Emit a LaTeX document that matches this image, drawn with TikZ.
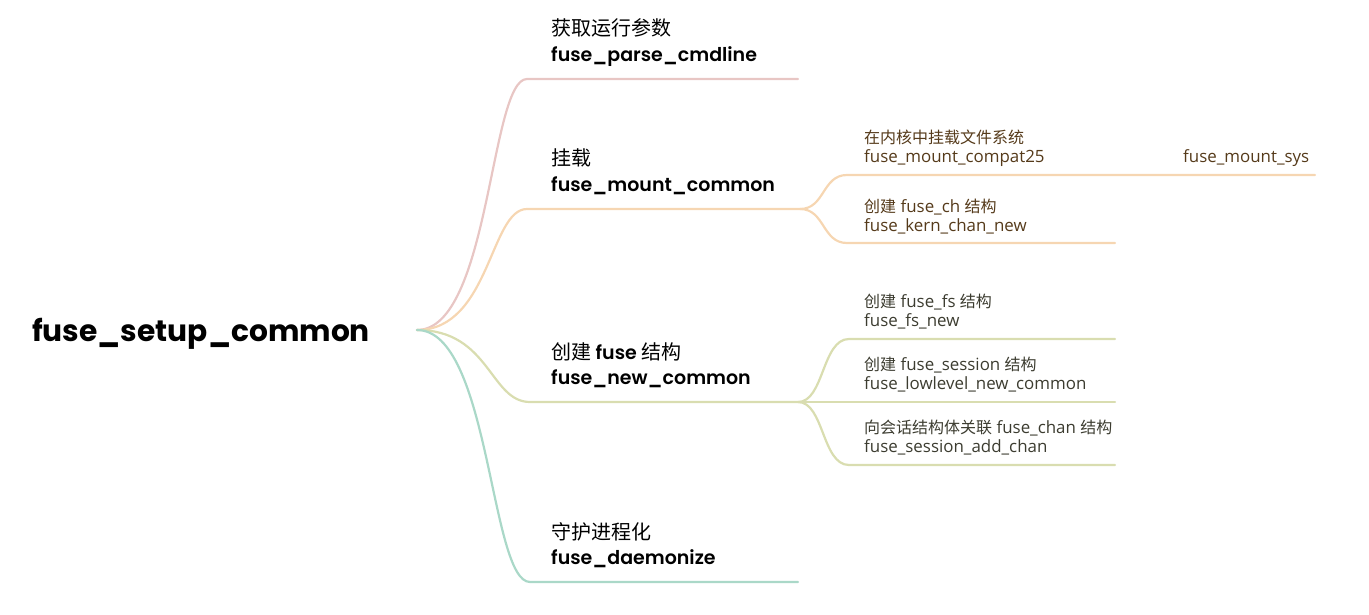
\documentclass[tikz,border=0pt]{standalone}
\usepackage{fontspec}
\setmainfont{Open Sans}
\newfontfamily\cjk{Noto Sans CJK SC}
\newfontfamily\pop{Poppins}[BoldFont={Poppins SemiBold}]
\newfontfamily\popb{Poppins}[BoldFont={Poppins Bold}]
\definecolor{cpink}{HTML}{E8C6C4}
\definecolor{corange}{HTML}{F6D6B2}
\definecolor{cgreen}{HTML}{D9DDB0}
\definecolor{cteal}{HTML}{AAD8C8}
\definecolor{torange}{HTML}{553A1A}
\definecolor{tgreen}{HTML}{3C3C30}
\tikzset{
  lbl/.style={inner sep=0pt, anchor=base west},
  roottxt/.style={lbl, font=\popb\bfseries\fontsize{29.7}{36}\selectfont},
  cnz/.style={lbl, font=\cjk\fontsize{20}{23}\selectfont},
  fnz/.style={lbl, font=\pop\bfseries\fontsize{19}{23}\selectfont},
  subtxt/.style={lbl, font=\fontsize{16.9}{19}\selectfont},
  branch/.style={line width=2.2pt, line cap=round},
}
\newcommand{\zh}[1]{{\cjk\fontsize{16}{19}\selectfont #1}}
\begin{document}
\begin{tikzpicture}[x=1pt,y=-1pt]
\useasboundingbox (0,0) rectangle (1369,614);
% root
\node[roottxt] (root) at (32,341) {fuse\_setup\_common};
\coordinate (r) at (417,330);
% level 2 coordinates
\coordinate (a0) at (527,79);  \coordinate (a1) at (798,79);
\coordinate (b0) at (527,209); \coordinate (b1) at (800,209);
\coordinate (c0) at (530,402); \coordinate (c1) at (798,402);
\coordinate (d0) at (530,582); \coordinate (d1) at (798,582);
% level 2 texts
\node[cnz] (a) at (551,35) {获取运行参数};
\node[fnz] (an) at (551,61) {fuse\_parse\_cmdline};
\node[cnz] (b) at (551,165) {挂载};
\node[fnz] (bn) at (551,191) {fuse\_mount\_common};
\node[cnz] (c) at (551,359) {创建 {\pop\bfseries\fontsize{19}{23}\selectfont fuse} 结构};
\node[fnz] (cn) at (551,384) {fuse\_new\_common};
\node[cnz] (d) at (551,539) {守护进程化};
\node[fnz] (dn) at (551,564) {fuse\_daemonize};
% root connectors
\draw[branch, cpink]   (r) .. controls (490,330) and (490,79)  .. (a0) -- (a1);
\draw[branch, corange] (r) .. controls (490,330) and (490,209) .. (b0) -- (b1);
\draw[branch, cgreen]  (r) .. controls (490,330) and (490,402) .. (c0) -- (c1);
\draw[branch, cteal]   (r) .. controls (490,330) and (490,582) .. (d0) -- (d1);
% level 3 (orange)
\coordinate (b10) at (847,175); \coordinate (b11) at (1115,175);
\coordinate (b20) at (847,243); \coordinate (b21) at (1115,243);
\coordinate (s0) at (1166,175); \coordinate (s1) at (1315,175);
\draw[branch, corange] (b1) .. controls (825,209) and (822,175) .. (b10) -- (b11) -- (s0) -- (s1);
\draw[branch, corange] (b1) .. controls (825,209) and (822,243) .. (b20) -- (b21);
\node[subtxt, text=torange] (b1t) at (864,143) {\zh{在内核中挂载文件系统}};
\node[subtxt, text=torange] (b1n) at (864,162) {fuse\_mount\_compat25};
\node[subtxt, text=torange] (st) at (1183,162) {fuse\_mount\_sys};
\node[subtxt, text=torange] (b2t) at (864,212) {\zh{创建} fuse\_ch \zh{结构}};
\node[subtxt, text=torange] (b2n) at (864,231) {fuse\_kern\_chan\_new};
% level 3 (green)
\coordinate (c10) at (849,339); \coordinate (c11) at (1115,339);
\coordinate (c20) at (849,402); \coordinate (c21) at (1115,402);
\coordinate (c30) at (849,465); \coordinate (c31) at (1115,465);
\draw[branch, cgreen] (c1) .. controls (824,402) and (822,339) .. (c10) -- (c11);
\draw[branch, cgreen] (c1) -- (c20) -- (c21);
\draw[branch, cgreen] (c1) .. controls (824,402) and (822,465) .. (c30) -- (c31);
\node[subtxt, text=tgreen] (c1t) at (864,307) {\zh{创建} fuse\_fs \zh{结构}};
\node[subtxt, text=tgreen] (c1n) at (864,326) {fuse\_fs\_new};
\node[subtxt, text=tgreen] (c2t) at (864,370) {\zh{创建} fuse\_session \zh{结构}};
\node[subtxt, text=tgreen] (c2n) at (864,389) {fuse\_lowlevel\_new\_common};
\node[subtxt, text=tgreen] (c3t) at (864,433) {\zh{向会话结构体关联} fuse\_chan \zh{结构}};
\node[subtxt, text=tgreen] (c3n) at (864,452) {fuse\_session\_add\_chan};
\end{tikzpicture}
\end{document}
